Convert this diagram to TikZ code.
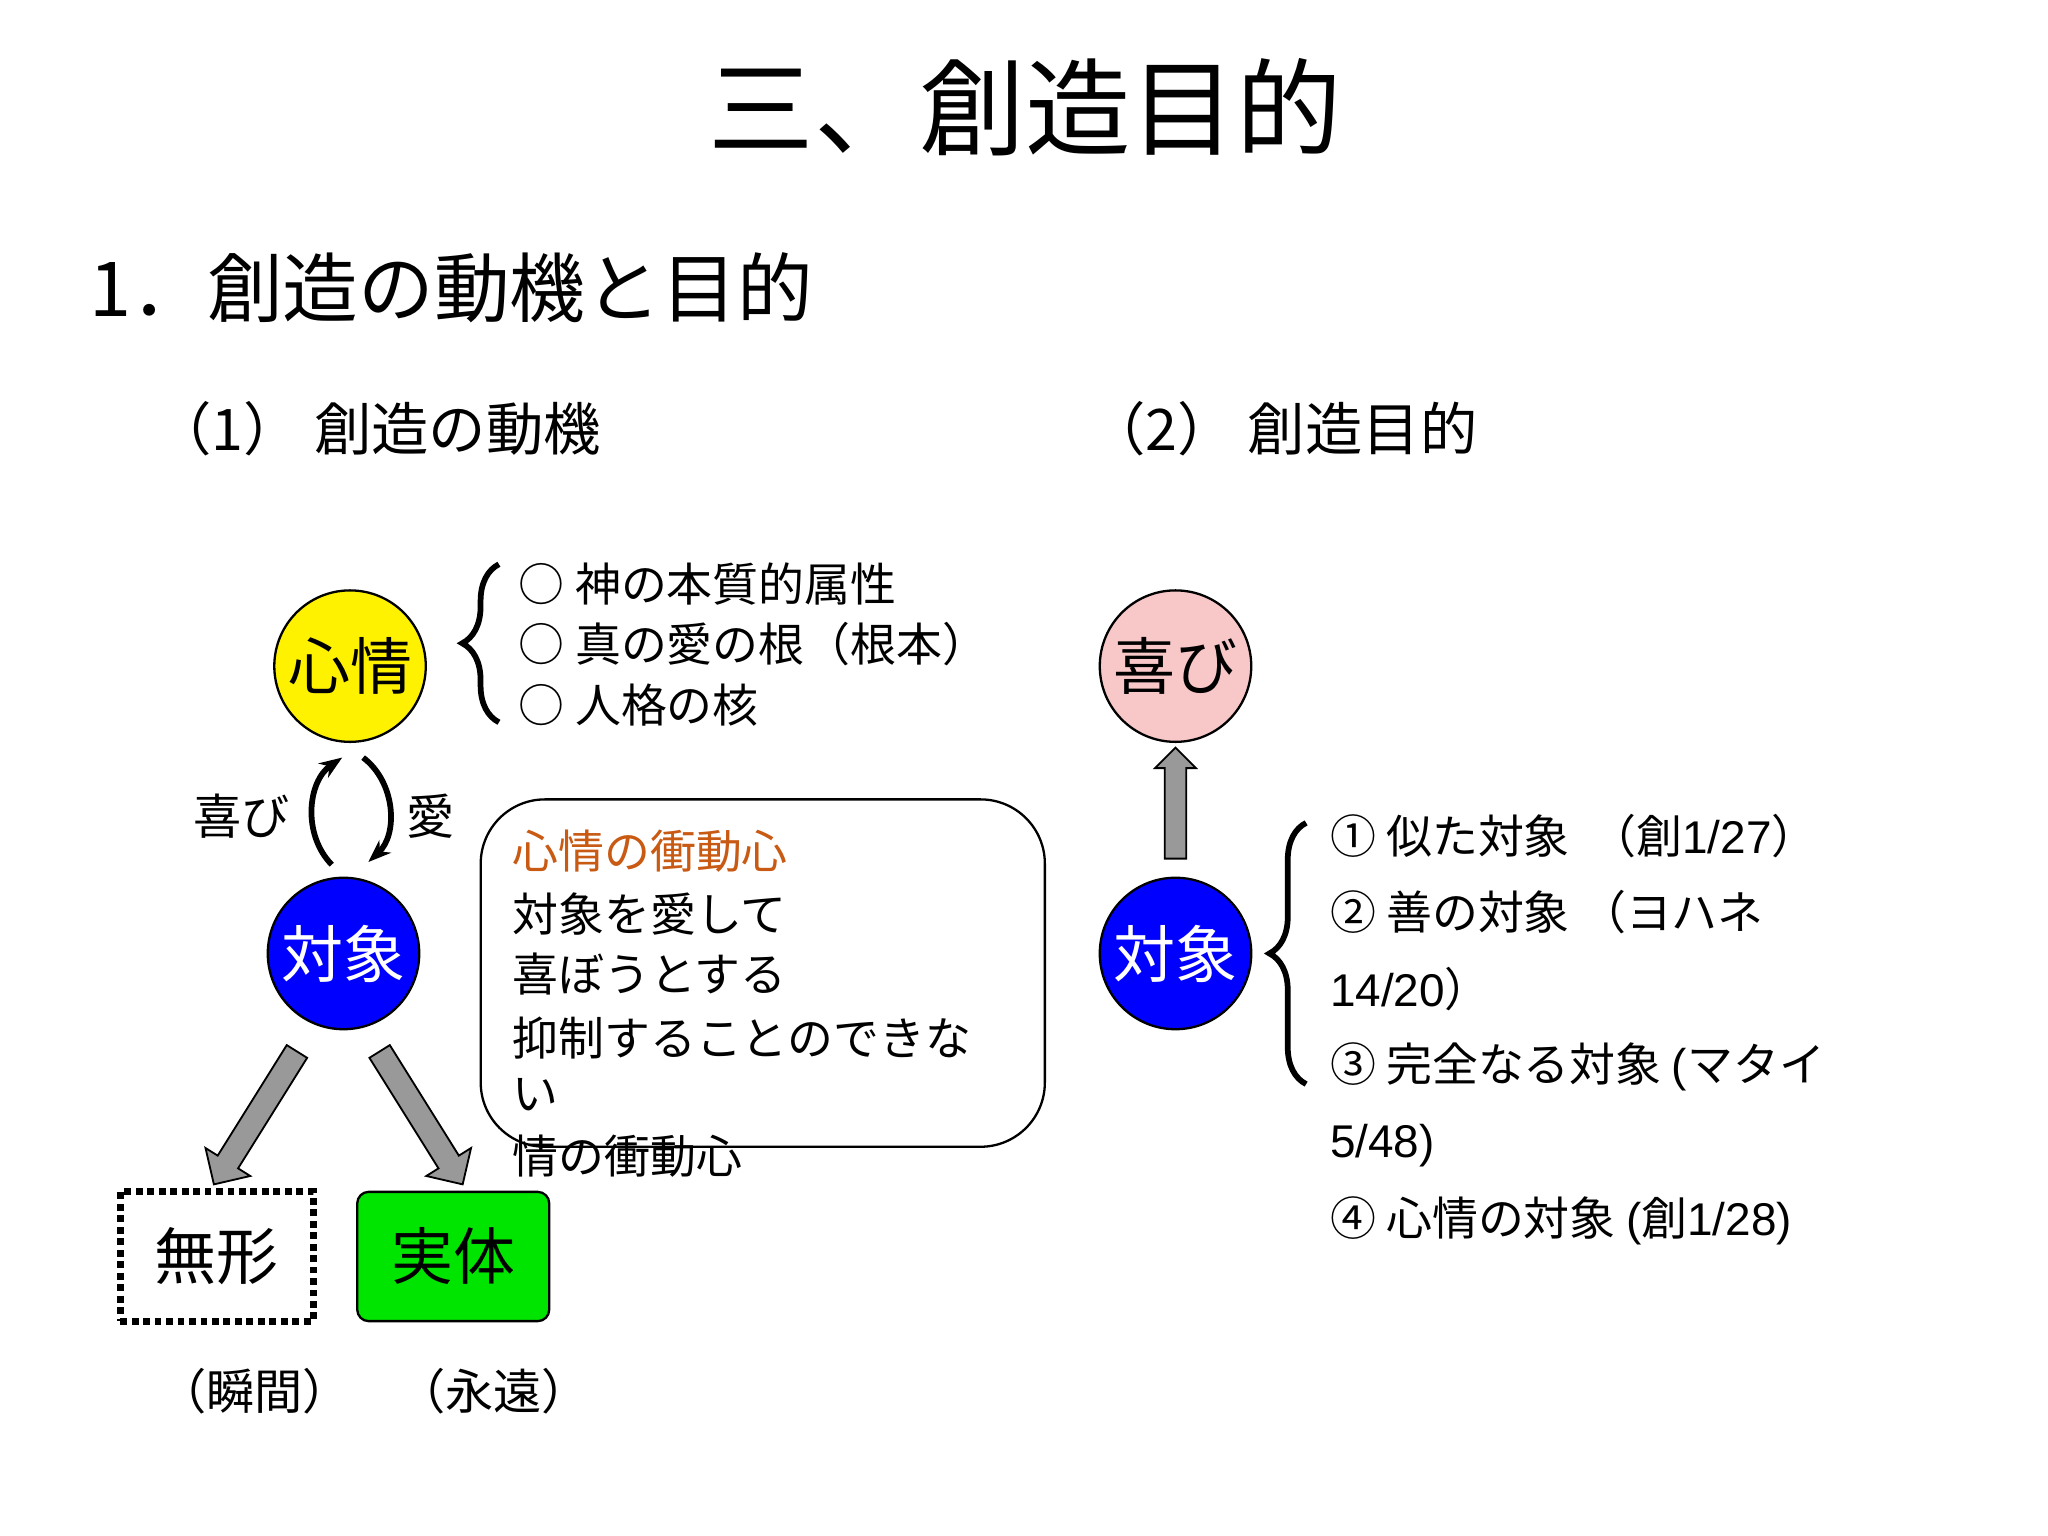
\documentclass[tikz,border=0pt]{standalone}
\usepackage{fontspec}
\setmainfont{Liberation Sans}
\newfontfamily\jp{Noto Sans CJK JP}
\newfontfamily\lat{Liberation Sans}
\usetikzlibrary{shapes.arrows,decorations.pathreplacing,arrows.meta}
\tikzset{
 circ/.style={circle,draw=black,line width=1pt,minimum size=2.32cm,inner sep=0pt,font=\jp\fontsize{27}{30}\selectfont},
 item/.style={anchor=west,inner sep=0pt,font=\jp\fontsize{20}{24}\selectfont},
 blk/.style={shape=single arrow,draw=black,fill=gray!80,line width=0.8pt,inner sep=0.17cm,single arrow head extend=0.22cm,minimum height=2.4cm},
 brc/.style={decorate,decoration={brace,amplitude=16pt},line width=2.5pt},
 lbl/.style={inner sep=0pt,font=\jp\fontsize{21}{24}\selectfont}
}
\begin{document}
\begin{tikzpicture}[x=0.02cm,y=-0.02cm]
\useasboundingbox[fill=white] (0,0) rectangle (1568,1176);
\node[inner sep=0pt,font=\jp\fontsize{46}{50}\selectfont] (title) at (785,82) {三、創造目的};
\node[anchor=west,inner sep=0pt,font=\jp\fontsize{33}{36}\selectfont] (sub) at (68,220) {1．創造の動機と目的};
\node[anchor=west,inner sep=0pt,font=\jp\fontsize{25}{28}\selectfont] (s1) at (118,328) {（1） 創造の動機};
\node[anchor=west,inner sep=0pt,font=\jp\fontsize{25}{28}\selectfont] (s2) at (833,328) {（2） 創造目的};
% left
\node[circ,fill=yellow] (shin) at (268,510) {心情};
\node[circ,fill=blue,text=white] (tai) at (263,730) {対象};
\coordinate (b1) at (382,553); \coordinate (b2) at (382,432);
\draw[brc] (b1) -- (b2);
\node[item] (i1) at (397,447) {○ 神の本質的属性};
\node[item] (i2) at (397,493) {○ 真の愛の根（根本）};
\node[item] (i3) at (397,540) {○ 人格の核};
\coordinate (la) at (254,662); \coordinate (lb) at (262,580);
\coordinate (ra) at (278,580); \coordinate (rb) at (282,660);
\draw[line width=2.5pt,-{Stealth[length=10pt]}] (la) to[bend left=50] (lb);
\draw[line width=2.5pt,-{Stealth[length=10pt]}] (ra) to[bend left=50] (rb);
\node[lbl] (yo) at (185,625) {喜び};
\node[lbl] (ai) at (330,625) {愛};
\node[draw=black,line width=1pt,rounded corners=28pt,minimum width=8.64cm,minimum height=5.32cm] (box) at (584,745) {};
\node[item,text={rgb,255:red,200;green,90;blue,20}] (t1) at (392,652) {心情の衝動心};
\node[item] (t2) at (392,700) {対象を愛して};
\node[item] (t3) at (392,746) {喜ぼうとする};
\node[item] (t4) at (392,795) {抑制することのできな};
\node[item] (t5) at (392,838) {い};
\node[item] (t6) at (392,885) {情の衝動心};
\node[blk,rotate=238] (a1) at (198,852) {};
\node[blk,rotate=-58] (a2) at (320,852) {};
\node[draw=black,line width=3pt,dotted,minimum width=2.96cm,minimum height=1.98cm,font=\jp\fontsize{27}{30}\selectfont] (mu) at (166,962) {無形};
\node[draw=black,fill=green!90!black,rounded corners=5pt,line width=1pt,minimum width=2.94cm,minimum height=1.98cm,font=\jp\fontsize{27}{30}\selectfont] (ji) at (347,962) {実体};
\node[lbl] (m1) at (195,1065) {（瞬間）};
\node[lbl] (m2) at (378,1065) {（永遠）};
% right
\node[circ,fill={rgb,255:red,248;green,200;blue,200}] (yoro) at (900,510) {喜び};
\node[circ,fill=blue,text=white] (tai2) at (900,730) {対象};
\node[shape=single arrow,draw=black,fill=gray!80,line width=0.8pt,inner sep=0.15cm,single arrow head extend=0.15cm,minimum height=1.7cm,rotate=90] (up) at (900,619) {};
\coordinate (c1) at (1000,830); \coordinate (c2) at (1000,630);
\draw[brc] (c1) -- (c2);
\node[item] (r1) at (1018,640) {① 似た対象 \ （創{\lat 1/27}）};
\node[item] (r2) at (1018,698) {② 善の対象 （ヨハネ};
\node[item] (r3) at (1018,757) {{\lat 14/20}）};
\node[item] (r4) at (1018,817) {③ 完全なる対象 {\lat (}マタイ};
\node[item] (r5) at (1018,877) {\lat 5/48)};
\node[item] (r6) at (1018,935) {④ 心情の対象 {\lat (}創{\lat 1/28)}};
\end{tikzpicture}
\end{document}
